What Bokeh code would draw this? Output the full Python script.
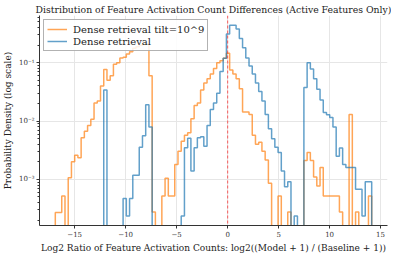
import numpy as np
from bokeh.plotting import figure
from bokeh.models import Span, CustomJSTickFormatter, Range1d, Legend, LegendItem, FixedTicker
from bokeh.embed import file_html
from bokeh.resources import INLINE

# ---- data (histogram densities on shared bins) ----
bin_lo = -16.90
bin_hi = 14.13
n_bins = 98

tilt_label = "Dense retrieval tilt=10^9"
dense_label = "Dense retrieval"

tilt_density = [
    2.7e-4, 2.7e-4, 5.2e-4, 0, 1.07e-3, 2.0e-3, 2.6e-3, 2.35e-3, 5.2e-3, 6.7e-3,
    8.4e-3, 1.08e-2, 2.05e-2, 2.2e-2, 4.0e-2, 7.65e-2, 5.0e-2, 6.0e-2, 9.4e-2, 0.100,
    0.121, 0.124, 0.141, 0.155, 0.177, 0.188, 0.200, 0.206, 0.210, 6.0e-2,
    2.75e-4, 0, 0, 5.2e-4, 1.05e-3, 5.2e-4, 5.2e-4, 1.8e-3, 3.05e-3, 4.5e-3,
    5.7e-3, 6.3e-3, 1.1e-2, 1.85e-2, 2.05e-2, 3.4e-2, 4.5e-2, 5.3e-2, 6.4e-2, 8.0e-2,
    0.100, 0.108, 0.120, 0.146, 0.075, 0.064, 0.053, 0.036, 0.0143, 0.0143,
    0.013, 5.7e-3, 4.0e-3, 4.35e-3, 3.05e-3, 2.15e-3, 8.6e-4, 0, 0, 5.2e-4,
    0, 0, 2.75e-4, 0, 0, 0, 0, 2.1e-3, 2.9e-3, 2.1e-3,
    1.1e-3, 7.7e-4, 1.6e-3, 5.2e-4, 5.2e-4, 5.2e-4, 5.2e-4, 5.2e-4, 2.75e-4, 0,
    0, 1.3e-2, 0, 2.75e-4, 0, 0, 0, 5.2e-4,
]

dense_density = [
    0, 0, 0, 0, 0, 0, 0, 0, 0, 0,
    0, 0, 0, 0, 0, 3.4e-2, 0, 0, 0, 0,
    0, 4.7e-4, 2.35e-4, 4.7e-4, 1.18e-3, 1.18e-3, 3.55e-3, 5.6e-3, 1.9e-2, 7.9e-3,
    0, 0, 0, 0, 0, 0, 0, 0, 0, 2.35e-4,
    3.5e-3, 5.1e-3, 1.39e-3, 3.5e-3, 5.2e-3, 5.4e-3, 3.7e-3, 8.4e-3, 1.58e-2, 2.05e-2,
    3.0e-2, 7.1e-2, 0.12, 0.31, 0.44, 0.44, 0.38, 0.26, 0.18, 0.121,
    0.088, 0.064, 0.045, 0.032, 0.022, 0.013, 7.4e-3, 5.0e-3, 3.55e-3, 2.9e-3,
    1.4e-3, 7.5e-4, 9.1e-4, 0, 2.35e-4, 0, 0, 0.0376, 0.1, 0.078,
    0.053, 0.035, 0.023, 0.014, 0.0128, 0.0115, 7.9e-3, 2.5e-3, 3.45e-3, 1.8e-3,
    1.6e-3, 1.6e-3, 1.6e-3, 6.8e-4, 6.8e-4, 2.35e-4, 9.1e-4, 9.1e-4,
]

x_ticks = [-15, -10, -5, 0, 5, 10, 15]

# ---- build step paths from the bins ----
edges = np.linspace(bin_lo, bin_hi, n_bins + 1)
FLOOR = 1e-7


def step_path(vals):
    v = np.asarray(vals, dtype=float)
    v = np.where(v > 0, v, FLOOR)
    xs = np.repeat(edges, 2)
    ys = np.concatenate([[FLOOR], np.repeat(v, 2), [FLOOR]])
    return xs, ys


SERIF = "DejaVu Serif"

p = figure(
    width=391, height=255,
    y_axis_type="log",
    x_range=Range1d(-18.45, 15.68),
    y_range=Range1d(10 ** -3.79, 10 ** -0.19),
    output_backend="svg", toolbar_location=None,
    min_border_left=26, min_border_right=4, min_border_top=13, min_border_bottom=28,
)

p.title.text = "Distribution of Feature Activation Count Differences (Active Features Only)"
p.title.text_font = SERIF
p.title.text_font_style = "normal"
p.title.text_font_size = "9.3px"
p.title.align = "center"
p.title.text_color = "#222222"
p.title.standoff = 2

xs_o, ys_o = step_path(tilt_density)
xs_b, ys_b = step_path(dense_density)
r_o = p.line(xs_o, ys_o, line_color="#ff7f0e", line_alpha=0.7, line_width=1.5)
r_b = p.line(xs_b, ys_b, line_color="#1f77b4", line_alpha=0.7, line_width=1.5)

p.add_layout(Span(location=0, dimension="height", line_color="red", line_alpha=0.5,
                  line_dash="3 2", line_width=1.2))

legend = Legend(items=[LegendItem(label=tilt_label, renderers=[r_o]),
                       LegendItem(label=dense_label, renderers=[r_b])],
                location="top_left")
legend.label_text_font = SERIF
legend.label_text_font_size = "10px"
legend.label_text_color = "#222222"
legend.border_line_color = "#666666"
legend.border_line_width = 1
legend.background_fill_alpha = 0.85
legend.glyph_width = 20
legend.glyph_height = 12
legend.label_height = 12
legend.label_standoff = 6
legend.spacing = 0
legend.padding = 3
legend.margin = 4
p.add_layout(legend)

# axes
p.xaxis.ticker = FixedTicker(ticks=x_ticks)
p.xaxis.formatter = CustomJSTickFormatter(code="return tick < 0 ? '\u2212' + Math.abs(tick) : String(tick);")
p.yaxis.formatter = CustomJSTickFormatter(code="""
const e = Math.round(Math.log10(tick));
const sup = {'-':'\u207b','0':'\u2070','1':'\u00b9','2':'\u00b2','3':'\u00b3','4':'\u2074','5':'\u2075','6':'\u2076','7':'\u2077','8':'\u2078','9':'\u2079'};
return '10' + String(e).split('').map(c => sup[c]).join('');
""")
for ax in (p.xaxis[0], p.yaxis[0]):
    ax.axis_line_color = "#333333"
    ax.axis_line_width = 1
    ax.major_tick_line_color = "#333333"
    ax.major_tick_in = 0
    ax.major_tick_out = 3
    ax.major_label_text_font = SERIF
    ax.major_label_text_font_size = "7px"
    ax.major_label_text_color = "#333333"
    ax.major_label_standoff = 2
    ax.axis_label_text_font = SERIF
    ax.axis_label_text_font_style = "normal"
    ax.axis_label_text_font_size = "9px"
    ax.axis_label_text_color = "#222222"
    ax.axis_label_standoff = 3
p.xaxis.minor_tick_line_color = None
p.yaxis.minor_tick_in = 0
p.yaxis.minor_tick_out = 2
p.yaxis.minor_tick_line_color = "#333333"
p.xaxis.axis_label = "Log2 Ratio of Feature Activation Counts: log2((Model + 1) / (Baseline + 1))"
p.yaxis.axis_label = "Probability Density (log scale)"

p.xgrid.grid_line_color = "#e6e6e6"
p.ygrid.grid_line_color = "#e6e6e6"
p.ygrid.minor_grid_line_color = None
p.outline_line_color = None
p.background_fill_color = "white"

open("out.html", "w").write(file_html(p, INLINE))
